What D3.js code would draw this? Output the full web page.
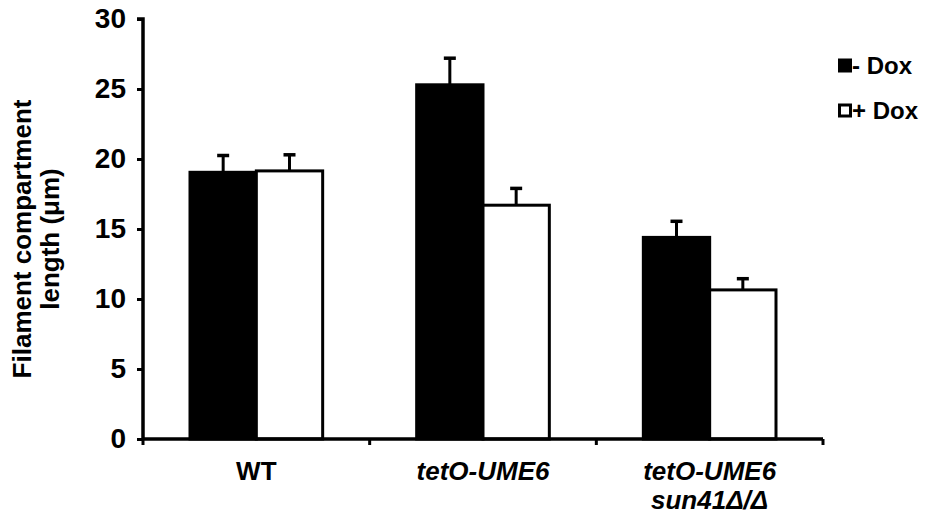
<!DOCTYPE html>
<html>
<head>
<meta charset="utf-8">
<title>Filament compartment length</title>
<style>
  body { margin: 0; background: #fff; }
  svg { display: block; }
  text { font-family: "Liberation Sans", Arial, sans-serif; font-weight: bold; fill: #000; }
</style>
</head>
<body>
<svg id="chart"></svg>
<script src="https://d3js.org/d3.v7.min.js"></script>
<script>
  // data
  const groups = ["WT", "tetO-UME6", "tetO-UME6 sun41"];
  const series = ["- Dox", "+ Dox"];
  const minusDox = [19.05, 25.3, 14.4];
  const minusDoxErr = [1.2, 1.9, 1.15];
  const plusDox = [19.15, 16.7, 10.65];
  const plusDoxErr = [1.15, 1.2, 0.8];
  const yTicks = [0, 5, 10, 15, 20, 25, 30];

  const width = 930, height = 516;
  const mLeft = 143, mRight = 823, mTop = 19, mBottom = 439;

  const svg = d3.select("#chart").attr("width", width).attr("height", height);

  const x0 = d3.scaleBand().domain(groups).range([mLeft, mRight]).padding(0);
  const x1 = d3.scaleBand().domain(series).range([47, x0.bandwidth() - 47]).padding(0);
  const y = d3.scaleLinear().domain([0, 30]).range([mBottom, mTop]);

  const rows = groups.map((g, i) => ({
    group: g,
    bars: [
      { s: series[0], v: minusDox[i], e: minusDoxErr[i], fill: "#000" },
      { s: series[1], v: plusDox[i], e: plusDoxErr[i], fill: "#fff" }
    ]
  }));

  const gGroup = svg.append("g").selectAll("g")
    .data(rows).enter().append("g")
    .attr("transform", d => `translate(${x0(d.group)},0)`);

  // error bars (drawn first so bar outline sits on top)
  gGroup.selectAll(".err")
    .data(d => d.bars).enter().append("g")
    .attr("class", "err")
    .each(function(d) {
      const g = d3.select(this);
      const cx = x1(d.s) + x1.bandwidth() / 2;
      g.append("line")
        .attr("x1", cx).attr("x2", cx)
        .attr("y1", y(d.v)).attr("y2", y(d.v + d.e))
        .attr("stroke", "#000").attr("stroke-width", 3);
      g.append("line")
        .attr("x1", cx - 6).attr("x2", cx + 6)
        .attr("y1", y(d.v + d.e)).attr("y2", y(d.v + d.e))
        .attr("stroke", "#000").attr("stroke-width", 3.5);
    });

  gGroup.selectAll("rect")
    .data(d => d.bars).enter().append("rect")
    .attr("x", d => x1(d.s))
    .attr("width", x1.bandwidth())
    .attr("y", d => y(d.v))
    .attr("height", d => y(0) - y(d.v))
    .attr("fill", d => d.fill)
    .attr("stroke", "#000")
    .attr("stroke-width", 3);

  // y axis
  const yAxis = svg.append("g")
    .attr("transform", `translate(${mLeft},0)`)
    .call(d3.axisLeft(y).tickValues(yTicks).tickSize(6).tickPadding(11));
  yAxis.select(".domain").attr("d", `M-6,${mTop}H0V${mBottom}`).attr("stroke-width", 3.5);
  yAxis.selectAll(".tick line").attr("stroke-width", 3);
  yAxis.selectAll(".tick text").style("font-size", "28px").attr("font-family", null);

  // x axis: ticks at group boundaries
  const xAxis = svg.append("g").attr("transform", `translate(0,${mBottom})`);
  xAxis.append("line")
    .attr("x1", mLeft).attr("x2", mRight)
    .attr("y1", 0).attr("y2", 0)
    .attr("stroke", "#000").attr("stroke-width", 3.5);
  const bounds = groups.map(g => x0(g)).concat([mRight]);
  xAxis.selectAll(".xt").data(bounds).enter().append("line")
    .attr("x1", d => d).attr("x2", d => d)
    .attr("y1", 0).attr("y2", 6)
    .attr("stroke", "#000").attr("stroke-width", 3);

  const labelY = mBottom + 41;
  svg.append("text")
    .attr("x", x0(groups[0]) + x0.bandwidth() / 2).attr("y", labelY)
    .attr("text-anchor", "middle").style("font-size", "26px")
    .text("WT");
  svg.append("text")
    .attr("x", x0(groups[1]) + x0.bandwidth() / 2).attr("y", labelY)
    .attr("text-anchor", "middle").style("font-size", "26px").style("font-style", "italic")
    .text("tetO-UME6");
  const t3 = svg.append("text")
    .attr("x", x0(groups[2]) + x0.bandwidth() / 2).attr("y", labelY)
    .attr("text-anchor", "middle").style("font-size", "26px").style("font-style", "italic");
  t3.append("tspan").attr("x", x0(groups[2]) + x0.bandwidth() / 2).text("tetO-UME6");
  t3.append("tspan").attr("x", x0(groups[2]) + x0.bandwidth() / 2).attr("dy", 29).text("sun41Δ/Δ");

  // y title
  const yt = svg.append("text")
    .attr("transform", `translate(0,${(mTop + mBottom) / 2 + 10}) rotate(-90)`)
    .attr("text-anchor", "middle").style("font-size", "26px");
  yt.append("tspan").attr("x", 0).attr("y", 31).text("Filament compartment");
  yt.append("tspan").attr("x", 0).attr("y", 59).text("length (μm)");

  // legend
  const legend = svg.append("g").attr("transform", "translate(838,0)");
  const items = [{ s: series[0], fill: "#000", y: 66 }, { s: series[1], fill: "#fff", y: 111 }];
  items.forEach(it => {
    legend.append("rect")
      .attr("x", 1.5).attr("y", it.y - 6).attr("width", 11).attr("height", 11)
      .attr("fill", it.fill).attr("stroke", "#000").attr("stroke-width", 3);
    legend.append("text")
      .attr("x", 14).attr("y", it.y + 8)
      .style("font-size", "24px")
      .text(it.s);
  });
</script>
</body>
</html>
